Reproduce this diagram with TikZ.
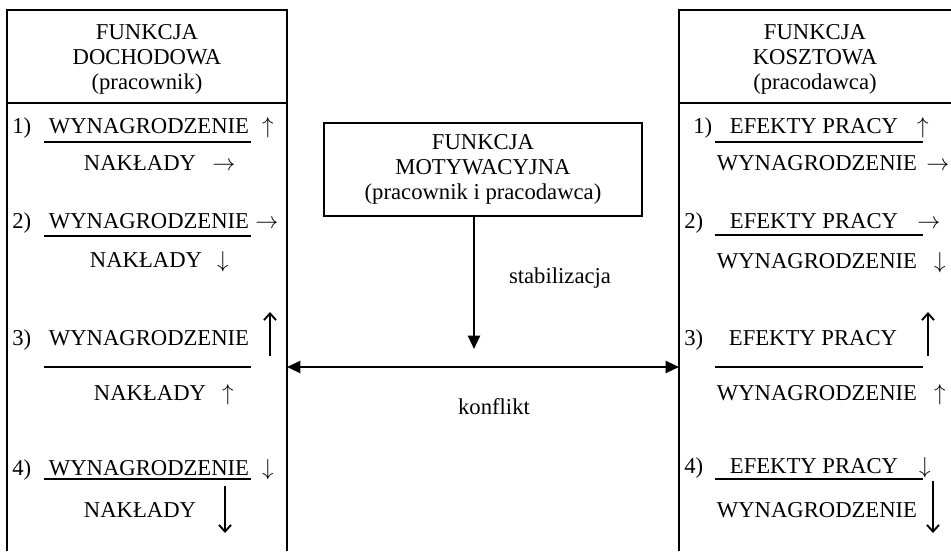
\documentclass[tikz,border=0pt]{standalone}
\usepackage{fontspec}
\setmainfont{Liberation Serif}
\usetikzlibrary{arrows.meta}
\begin{document}
\begin{tikzpicture}[x=0.75pt,y=-0.75pt,
  txt/.style={font=\fontsize{17}{20}\selectfont, inner sep=0pt, anchor=base},
  num/.style={txt, anchor=base west},
  hdr/.style={font=\fontsize{17}{18.75}\selectfont, align=center, inner sep=0pt},
  frame/.style={line width=1.2pt},
  frac/.style={line width=1.4pt},
  bigarrow/.style={line width=1.4pt, -{Straight Barb[length=5pt,width=9pt,line width=1.4pt]}},
  conn/.style={line width=1.6pt, -{Triangle[length=10pt,width=9pt]}},
  conn2/.style={line width=1.6pt, {Triangle[length=10pt,width=9pt]}-{Triangle[length=10pt,width=9pt]}},
]
\useasboundingbox (0,0) rectangle (951,551);

% frames
\draw[frame] (7,551) -- (7,10) -- (287,10) -- (287,551);
\draw[frame] (7,103) -- (287,103);
\draw[frame] (951,10) -- (679,10) -- (679,551);
\draw[frame] (679,103) -- (951,103);

% headers
\node[hdr] (lhdr) at (147,59) {FUNKCJA\\DOCHODOWA\\(pracownik)};
\node[hdr] (rhdr) at (815,59) {FUNKCJA\\KOSZTOWA\\(pracodawca)};

% central box
\node[hdr, draw, frame, minimum width=238.5pt, minimum height=69.75pt] (mot) at (483,169.5)
  {FUNKCJA\\MOTYWACYJNA\\(pracownik i pracodawca)};

% connectors
\coordinate (lR) at (287,367);
\coordinate (rL) at (679,367);
\coordinate (stabend) at (474,349);
\draw[conn] (stabend |- mot.south) -- (stabend);
\draw[conn2] (lR) -- (rL);
\node[txt] (stab) at (560,283) {stabilizacja};
\node[txt] (konf) at (494,414) {konflikt};

% ---- left column ----
\node[num] (l1n) at (12,133) {1)};
\node[txt] (l1a) at (149,133) {WYNAGRODZENIE};
\node[txt] (l1aa) at (268,133) {$\uparrow$};
\draw[frac] (44,142) -- (251,142);
\node[txt] (l1b) at (140,170) {NAKŁADY};
\node[txt] (l1ba) at (224,170) {$\rightarrow$};

\node[num] (l2n) at (12,228) {2)};
\node[txt] (l2a) at (149,228) {WYNAGRODZENIE};
\node[txt] (l2aa) at (267,228) {$\rightarrow$};
\draw[frac] (44,236) -- (251,236);
\node[txt] (l2b) at (146,267) {NAKŁADY};
\node[txt] (l2ba) at (223,267) {$\downarrow$};

\node[num] (l3n) at (12,345) {3)};
\node[txt] (l3a) at (149,345) {WYNAGRODZENIE};
\draw[bigarrow] (270,356) -- (270,312);
\draw[frac] (44,367) -- (251,367);
\node[txt] (l3b) at (150,400) {NAKŁADY};
\node[txt] (l3ba) at (228,400) {$\uparrow$};

\node[num] (l4n) at (12,475) {4)};
\node[txt] (l4a) at (149,475) {WYNAGRODZENIE};
\node[txt] (l4aa) at (268,475) {$\downarrow$};
\draw[frac] (44,479) -- (251,479);
\node[txt] (l4b) at (140,517) {NAKŁADY};
\draw[bigarrow] (225,486) -- (225,533);

% ---- right column ----
\node[num] (r1n) at (693,133) {1)};
\node[txt] (r1a) at (814,133) {EFEKTY PRACY};
\node[txt] (r1aa) at (923,133) {$\uparrow$};
\draw[frac] (715,142) -- (923,142);
\node[txt] (r1b) at (817,170) {WYNAGRODZENIE};
\node[txt] (r1ba) at (938,170) {$\rightarrow$};

\node[num] (r2n) at (684,228) {2)};
\node[txt] (r2a) at (814,228) {EFEKTY PRACY};
\node[txt] (r2aa) at (929,228) {$\rightarrow$};
\draw[frac] (715,235) -- (923,235);
\node[txt] (r2b) at (817,268) {WYNAGRODZENIE};
\node[txt] (r2ba) at (940,268) {$\downarrow$};

\node[num] (r3n) at (684,345) {3)};
\node[txt] (r3a) at (813,345) {EFEKTY PRACY};
\draw[bigarrow] (928,356) -- (928,312);
\draw[frac] (715,367) -- (923,367);
\node[txt] (r3b) at (817,400) {WYNAGRODZENIE};
\node[txt] (r3ba) at (940,400) {$\uparrow$};

\node[num] (r4n) at (684,473) {4)};
\node[txt] (r4a) at (814,473) {EFEKTY PRACY};
\node[txt] (r4aa) at (925,473) {$\downarrow$};
\draw[frac] (715,479) -- (923,479);
\node[txt] (r4b) at (817,517) {WYNAGRODZENIE};
\draw[bigarrow] (933,481) -- (933,533);
\end{tikzpicture}
\end{document}
